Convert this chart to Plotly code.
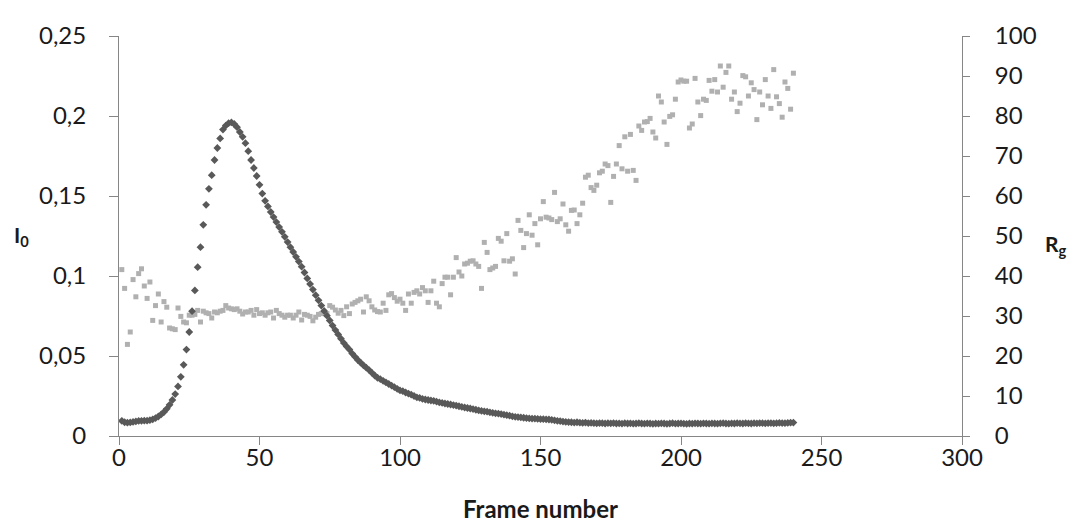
import plotly.graph_objects as go

# frame numbers 1..240
frames = list(range(1, 241))

# I0 (left axis)
i0 = [
    0.0095, 0.0086, 0.0083, 0.0085, 0.0088, 0.0091, 0.0094, 0.0095, 0.0096, 0.0096,
    0.0099, 0.0104, 0.0112, 0.0122, 0.0135, 0.0150, 0.0170, 0.0195, 0.0225, 0.0262,
    0.0310, 0.0370, 0.0445, 0.0540, 0.0650, 0.0780, 0.0910, 0.1055, 0.1180, 0.1320,
    0.1445, 0.1545, 0.1630, 0.1725, 0.1800, 0.1860, 0.1915, 0.1940, 0.1955, 0.1960,
    0.1950, 0.1930, 0.1900, 0.1870, 0.1830, 0.1780, 0.1725, 0.1675, 0.1625, 0.1570,
    0.1515, 0.1470, 0.1435, 0.1400, 0.1368, 0.1337, 0.1306, 0.1276, 0.1245, 0.1212,
    0.1180, 0.1150, 0.1120, 0.1090, 0.1058, 0.1022, 0.0985, 0.0950, 0.0915, 0.0880,
    0.0848, 0.0815, 0.0782, 0.0752, 0.0722, 0.0690, 0.0662, 0.0635, 0.0608, 0.0582,
    0.0560, 0.0540, 0.0515, 0.0495, 0.0475, 0.0458, 0.0442, 0.0427, 0.0412, 0.0395,
    0.0378, 0.0364, 0.0355, 0.0345, 0.0335, 0.0325, 0.0315, 0.0305, 0.0295, 0.0285,
    0.0280, 0.0272, 0.0265, 0.0258, 0.0250, 0.0242, 0.0238, 0.0232, 0.0228, 0.0225,
    0.0222, 0.0220, 0.0215, 0.0210, 0.0207, 0.0203, 0.0200, 0.0197, 0.0193, 0.0190,
    0.0186, 0.0182, 0.0178, 0.0175, 0.0172, 0.0168, 0.0164, 0.0160, 0.0157, 0.0154,
    0.0152, 0.0148, 0.0145, 0.0142, 0.0140, 0.0137, 0.0133, 0.0130, 0.0127, 0.0123,
    0.0120, 0.0118, 0.0116, 0.0114, 0.0112, 0.0110, 0.0109, 0.0108, 0.0107, 0.0106,
    0.0105, 0.0104, 0.0103, 0.0101, 0.0098, 0.0095, 0.0093, 0.0090, 0.0088, 0.0087,
    0.0086, 0.0084, 0.0086, 0.0083, 0.0082, 0.0084, 0.0081, 0.0082, 0.0080, 0.0079,
    0.0081, 0.0080, 0.0078, 0.0080, 0.0079, 0.0081, 0.0078, 0.0079, 0.0077, 0.0080,
    0.0078, 0.0079, 0.0077, 0.0078, 0.0080, 0.0078, 0.0077, 0.0079, 0.0078, 0.0076,
    0.0078, 0.0077, 0.0079, 0.0078, 0.0076, 0.0078, 0.0080, 0.0077, 0.0078, 0.0079,
    0.0077, 0.0076, 0.0078, 0.0077, 0.0079, 0.0078, 0.0077, 0.0079, 0.0078, 0.0077,
    0.0079, 0.0078, 0.0077, 0.0079, 0.0080, 0.0078, 0.0077, 0.0079, 0.0078, 0.0080,
    0.0079, 0.0078, 0.0080, 0.0079, 0.0078, 0.0080, 0.0079, 0.0081, 0.0080, 0.0079,
    0.0080, 0.0081, 0.0079, 0.0080, 0.0082, 0.0081, 0.0080, 0.0082, 0.0083, 0.0084,
]

# Rg (right axis)
rg = [
    41.6, 36.9, 22.9, 26.0, 39.1, 34.8, 40.6, 41.8, 37.5, 34.4,
    38.5, 28.9, 32.6, 35.5, 28.5, 33.6, 32.2, 27.0, 26.8, 26.6,
    32.0, 29.9, 28.5, 28.3, 30.2,
    30.2, 30.4, 31.4, 28.5, 31.2, 30.8, 30.6, 29.5, 31.0, 30.8,
    31.2, 31.4, 32.6, 32.0, 31.8, 31.6, 31.8, 31.2, 30.5, 31.0,
    31.0, 31.4, 30.2, 31.6, 30.6, 30.8, 30.2, 30.8, 31.0, 29.5,
    31.4, 30.6, 30.2, 29.7, 30.2, 30.2, 29.5, 30.2, 31.0, 29.0,
    30.4, 30.2, 29.9, 28.8, 29.7, 30.4, 30.6, 31.0, 30.6,
    32.6, 32.2, 31.5, 30.7, 31.4, 30.1, 32.3, 30.6, 33.0, 33.4,
    33.8, 34.2, 31.0, 34.8, 33.8, 32.3, 31.5, 31.1, 31.0, 33.2,
    31.4, 35.3, 35.6, 34.6, 33.7, 34.2, 33.2, 31.4, 35.5, 33.2,
    35.9, 36.3, 35.5, 37.1, 36.3, 33.4, 36.3, 38.7, 33.2, 32.3,
    38.1, 39.7, 39.7, 35.3, 39.7, 44.6, 41.0, 40.0, 43.0, 43.2,
    43.7, 43.8, 43.0, 42.4, 36.9, 48.4, 45.9, 41.6, 42.0, 42.4,
    49.4, 48.7, 43.8, 50.6, 43.7, 44.3, 40.5, 53.9, 51.4, 47.1,
    50.6, 55.3, 50.2, 53.1, 47.8, 54.3, 58.6, 54.7, 54.5, 54.1,
    60.9, 53.6, 54.3, 58.0, 52.8, 51.2, 56.4,
    56.5, 53.1, 55.3, 58.2, 64.7, 65.2, 62.1, 61.4, 62.7, 65.8,
    66.2, 68.0, 67.6, 58.4, 64.9, 68.0, 72.6, 66.8, 74.8, 66.2,
    75.4, 66.4, 63.9, 77.5, 76.4, 78.5, 78.6, 79.4, 76.0, 74.5,
    85.0, 83.5, 78.5, 72.9, 79.9, 80.3, 84.2, 88.5, 89.0, 88.7,
    88.7, 77.0, 78.0, 89.4, 83.5, 80.1, 84.2, 83.9, 88.9, 86.2,
    89.1, 86.0, 92.5, 87.2, 90.9, 92.5, 84.2, 86.0, 81.1, 83.2,
    90.1, 89.8, 85.0, 88.3, 86.6, 79.1, 86.0, 82.8, 89.1, 85.0,
    81.9, 91.6, 84.8, 83.1, 79.7, 88.5, 86.9, 81.7, 90.7,
]

axis_col = '#868686'
font_name = 'Lato, Open Sans, sans-serif'

fig = go.Figure()

# light squares on the Rg axis (drawn underneath)
fig.add_trace(go.Scatter(
    x=frames, y=rg, mode='markers', yaxis='y',
    marker=dict(symbol='square', size=5, color='#b0b0b0'),
    name='Rg'
))

# dark diamonds on the I0 axis (overlaying, so drawn on top)
fig.add_trace(go.Scatter(
    x=frames, y=i0, mode='markers', yaxis='y2',
    marker=dict(symbol='diamond', size=6, color='#595959'),
    name='I0'
))

# page body has an 8px margin: shrink the figure so it fits the window
fig.update_layout(
    width=1067, height=517,
    margin=dict(l=111, r=113, t=21, b=89),
    paper_bgcolor='white', plot_bgcolor='white',
    showlegend=False,
    separators=', ',
    font=dict(family=font_name, size=24, color='#1a1a1a'),
    xaxis=dict(
        range=[0, 300], dtick=50, showgrid=False, zeroline=False,
        showline=True, linecolor=axis_col, linewidth=1,
        ticks='outside', ticklen=8, tickcolor=axis_col,
        ticklabelstandoff=-8,
    ),
    yaxis=dict(
        side='right', range=[0, 100], dtick=10, showgrid=False, zeroline=False,
        showline=True, linecolor=axis_col, linewidth=1,
        ticks='outside', ticklen=7, tickcolor=axis_col,
        ticklabelstandoff=20,
    ),
    yaxis2=dict(
        overlaying='y', side='left', range=[0, 0.25], dtick=0.05,
        showgrid=False, zeroline=False,
        showline=True, linecolor=axis_col, linewidth=1,
        ticks='outside', ticklen=9, tickcolor=axis_col,
        ticklabelstandoff=18,
    ),
    annotations=[
        dict(text='<b>Frame number</b>', xref='paper', yref='paper',
             x=0.5, y=-0.182, xanchor='center', yanchor='middle',
             showarrow=False, font=dict(size=24)),
        dict(text='<b>I<sub>0</sub></b>', xref='paper', yref='paper',
             x=-0.116, y=0.499, xanchor='center', yanchor='middle',
             showarrow=False, font=dict(size=21)),
        dict(text='<b>R<sub>g</sub></b>', xref='paper', yref='paper',
             x=1.112, y=0.477, xanchor='center', yanchor='middle',
             showarrow=False, font=dict(size=21)),
    ],
)

fig.write_html("out.html")
